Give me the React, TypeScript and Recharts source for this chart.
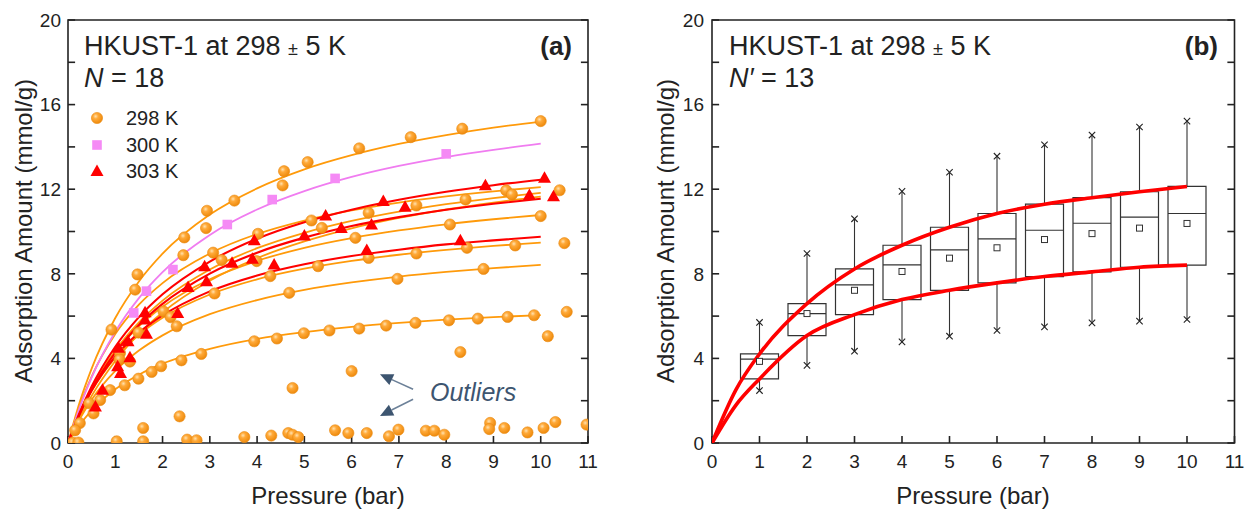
import React from 'react';
import { ComposedChart, Line, Scatter, XAxis, YAxis, ReferenceArea, ReferenceLine } from 'recharts';

const FONT = "'Liberation Sans', Arial, Helvetica, sans-serif";
const INK = '#222';

/* ——— shared axes ——— */
const X_TICKS = [0, 1, 2, 3, 4, 5, 6, 7, 8, 9, 10, 11];
const Y_TICKS = [0, 2, 4, 6, 8, 10, 12, 14, 16, 18, 20];

/* ——— panel (a): fitted isotherms, read at these pressures ——— */
const FIT_P = [0, 0.25, 0.5, 1, 1.5, 2, 3, 4, 5, 6, 7, 8, 9, 10];

const fitOrange1 = [0, 1.95, 3.52, 5.91, 7.64, 8.95, 10.8, 12.04, 12.94, 13.61, 14.14, 14.56, 14.91, 15.2];
const fitOrange2 = [0, 1.77, 3.14, 5.15, 6.54, 7.56, 8.96, 9.88, 10.52, 11.0, 11.37, 11.66, 11.9, 12.1];
const fitOrange3 = [0, 1.41, 2.57, 4.37, 5.7, 6.73, 8.2, 9.21, 9.94, 10.5, 10.94, 11.29, 11.58, 11.83];
const fitOrange4 = [0, 1.21, 2.23, 3.88, 5.16, 6.17, 7.67, 8.74, 9.53, 10.15, 10.64, 11.04, 11.37, 11.65];
const fitOrange5 = [0, 1.42, 2.57, 4.29, 5.52, 6.44, 7.74, 8.61, 9.23, 9.69, 10.05, 10.34, 10.58, 10.78];
const fitOrange6 = [0, 1.39, 2.46, 4.04, 5.12, 5.92, 7.02, 7.74, 8.24, 8.61, 8.9, 9.13, 9.32, 9.47];
const fitOrange7 = [0, 1.14, 2.05, 3.41, 4.37, 5.09, 6.09, 6.76, 7.24, 7.59, 7.87, 8.09, 8.27, 8.42];
const fitOrange8 = [0, 0.86, 1.54, 2.54, 3.23, 3.75, 4.45, 4.92, 5.24, 5.49, 5.68, 5.83, 5.95, 6.05];
const fitPink = [0, 1.7, 3.1, 5.26, 6.85, 8.08, 9.84, 11.04, 11.91, 12.58, 13.1, 13.52, 13.86, 14.15];
const fitRed1 = [0, 1.46, 2.67, 4.55, 5.95, 7.03, 8.58, 9.66, 10.44, 11.03, 11.5, 11.88, 12.19, 12.45];
const fitRed2 = [0, 1.38, 2.52, 4.27, 5.58, 6.58, 8.01, 9.0, 9.71, 10.26, 10.68, 11.03, 11.31, 11.55];
const fitRed3 = [0, 1.39, 2.48, 4.09, 5.21, 6.03, 7.17, 7.92, 8.45, 8.84, 9.14, 9.39, 9.58, 9.75];

/* ——— panel (a): measured points [pressure, amount] ——— */
const orangeUpper = [
  [0.92, 5.36], [1.42, 7.25], [1.47, 7.97], [2.44, 8.88], [2.46, 9.72], [2.92, 10.16], [2.94, 10.98],
  [3.52, 11.46], [4.54, 12.18], [4.57, 12.85], [5.07, 13.28], [6.16, 13.93], [7.25, 14.46], [8.34, 14.86], [10.0, 15.22],
];
const orangeMiddle = [
  [3.07, 9.0], [3.25, 8.65], [3.1, 7.07], [2.3, 5.52], [2.02, 6.22], [2.17, 5.95], [1.49, 5.22], [4.02, 9.89],
  [3.99, 8.6], [4.28, 7.89], [4.68, 7.1], [5.15, 10.52], [5.37, 10.17], [5.29, 8.36], [6.36, 10.88], [6.08, 9.7],
  [6.36, 8.75], [6.97, 7.76], [7.37, 11.23], [7.37, 8.96], [8.08, 10.33], [8.41, 11.51], [8.44, 9.23], [8.79, 8.23],
  [9.27, 11.94], [9.39, 11.75], [9.46, 9.34], [10.0, 10.73],
  [1.1, 4.25], [1.09, 3.95], [1.31, 3.85], [0.45, 1.88], [0.54, 1.4], [0.25, 0.94], [0.15, 0.6], [0.68, 2.03], [0.89, 2.5],
];
const orangeLower = [
  [1.2, 2.73], [1.49, 3.04], [1.77, 3.36], [1.97, 3.63], [2.4, 3.91], [2.82, 4.21], [3.94, 4.81], [4.42, 4.94],
  [4.99, 5.19], [5.53, 5.32], [6.16, 5.41], [6.73, 5.55], [7.35, 5.68], [8.06, 5.8], [8.67, 5.88], [9.3, 5.96], [9.86, 6.04],
];
const orangeOutliers = [
  [4.75, 2.6], [6.0, 3.4], [8.3, 4.3], [10.15, 5.05], [10.5, 9.45], [10.55, 6.2], [10.4, 11.95],
  [1.03, 0.08], [1.59, 0.71], [1.59, 0.08], [2.36, 1.26], [2.52, 0.16], [2.72, 0.13], [3.73, 0.28], [4.3, 0.35],
  [4.66, 0.47], [4.75, 0.39], [4.87, 0.28], [5.65, 0.6], [5.93, 0.47], [6.32, 0.47], [6.79, 0.32], [6.99, 0.63],
  [7.57, 0.58], [7.75, 0.58], [7.96, 0.39], [8.93, 0.95], [8.91, 0.66], [9.23, 0.71], [9.72, 0.5], [10.06, 0.71],
  [10.31, 0.99], [10.97, 0.87], [0.1, 0.02], [0.22, 0.02],
];
const pink300 = [[1.39, 6.15], [1.66, 7.18], [2.22, 8.2], [3.37, 10.33], [4.32, 11.51], [5.65, 12.51], [8.0, 13.67]];
const red303a = [[1.07, 4.5], [1.63, 6.18], [2.54, 7.38], [2.89, 8.36], [3.94, 9.59], [5.45, 10.76], [6.67, 11.44], [8.83, 12.19], [10.08, 12.54]];
const red303b = [
  [0.58, 1.73], [1.05, 3.63], [1.27, 4.81], [1.63, 5.84], [2.93, 7.65], [3.47, 8.52], [5.0, 9.81], [5.78, 10.17],
  [6.42, 10.33], [7.13, 11.17], [9.76, 11.72], [10.27, 11.67],
];
const red303c = [[0.73, 2.52], [1.11, 3.31], [1.31, 4.05], [1.66, 5.16], [2.32, 6.15], [3.9, 8.71], [4.36, 8.44], [6.32, 9.12], [8.3, 9.59]];

/* ——— panel (b): box statistics per pressure ——— */
const BOX_P = [1, 2, 3, 4, 5, 6, 7, 8, 9, 10];
const boxQ1 = [3.03, 5.08, 6.07, 6.78, 7.22, 7.57, 7.87, 8.09, 8.31, 8.41];
const boxQ3 = [4.21, 6.59, 8.23, 9.35, 10.2, 10.85, 11.29, 11.6, 11.88, 12.13];
const boxMedian = [3.97, 6.12, 7.48, 8.42, 9.13, 9.65, 10.06, 10.39, 10.68, 10.85];
const boxMean = [3.86, 6.12, 7.22, 8.11, 8.74, 9.23, 9.62, 9.9, 10.16, 10.38];
const whiskerLow = [2.48, 3.67, 4.34, 4.78, 5.05, 5.32, 5.49, 5.68, 5.76, 5.84];
const whiskerHigh = [5.7, 8.96, 10.6, 11.9, 12.8, 13.56, 14.1, 14.56, 14.94, 15.22];

const BOUND_P = [0, 0.5, 1, 2, 3, 4, 5, 6, 7, 8, 9, 10];
const boundUpper = [0, 2.5, 4.21, 6.59, 8.23, 9.35, 10.2, 10.85, 11.29, 11.6, 11.88, 12.13];
const boundLower = [0, 1.78, 3.03, 5.08, 6.07, 6.78, 7.22, 7.57, 7.87, 8.09, 8.31, 8.41];

const BOX_HALF = 0.4;
// inward tick lengths, in axis units (~7px)
const TICK_DX = 0.15;
const TICK_DY = 0.33;

const toCurve = (xs: number[], ys: number[]) => xs.map((x, i) => ({ x, y: ys[i] }));
const toPts = (pts: number[][]) => pts.map(([x, y]) => ({ x, y }));

const ORANGE_LINE = '#FF9A0A';
const RED = '#FF0000';
const PINK_LINE = '#F07CF0';

/* ——— marker shapes ——— */
const Ball = (p: any) => <circle cx={p.cx} cy={p.cy} r={5.6} fill="url(#ballGrad)" stroke="#E98A10" strokeWidth={0.6} />;
const Square = (p: any) => <rect x={p.cx - 4.8} y={p.cy - 4.8} width={9.6} height={9.6} fill="#F58AF5" />;
const Triangle = (p: any) => (
  <polygon points={`${p.cx},${p.cy - 6.5} ${p.cx - 6.5},${p.cy + 5} ${p.cx + 6.5},${p.cy + 5}`} fill={RED} />
);
const MeanMark = (p: any) => <rect x={p.cx - 3} y={p.cy - 3} width={6} height={6} fill="#fff" stroke="#333" strokeWidth={1} />;
const Cross = (p: any) => (
  <g stroke="#222" strokeWidth={1.1}>
    <line x1={p.cx - 3.2} y1={p.cy - 3.2} x2={p.cx + 3.2} y2={p.cy + 3.2} />
    <line x1={p.cx - 3.2} y1={p.cy + 3.2} x2={p.cx + 3.2} y2={p.cy - 3.2} />
  </g>
);

const Arrow = (p: any) => {
  const { x1, y1, x2, y2 } = p;
  const a = Math.atan2(y2 - y1, x2 - x1);
  const L = 13, W = 6;
  const bx = x2 - L * Math.cos(a), by = y2 - L * Math.sin(a);
  const nx = -Math.sin(a) * W, ny = Math.cos(a) * W;
  return (
    <g>
      <line x1={x1} y1={y1} x2={bx} y2={by} stroke="#6C8098" strokeWidth={1.6} />
      <polygon points={`${x2},${y2} ${bx + nx},${by + ny} ${bx - nx},${by - ny}`} fill="#3D5570" />
    </g>
  );
};

/* ——— tick labels ——— */
const LeftTick = ({ x, y, payload }: any) =>
  payload.value % 4 === 0 ? (
    <text x={x} y={y} dy="0.36em" textAnchor="end" fontSize={19} fontFamily={FONT} fill={INK}>{payload.value}</text>
  ) : <g />;
const BottomTick = ({ x, y, payload }: any) => (
  <text x={x} y={y} dy="0.72em" textAnchor="middle" fontSize={19} fontFamily={FONT} fill={INK}>{payload.value}</text>
);

function frameAndAxes(yWidth: number, yMargin: number) {
  return [
    <XAxis key="x" type="number" dataKey="x" domain={[0, 11]} ticks={X_TICKS} allowDataOverflow
      axisLine={false} tickSize={0} tickMargin={11} tickLine={false} tick={<BottomTick />} height={30} />,
    <YAxis key="y" type="number" dataKey="y" domain={[0, 20]} ticks={Y_TICKS} allowDataOverflow width={yWidth}
      axisLine={false} tickSize={0} tickMargin={yMargin} tickLine={false} tick={<LeftTick />} />,
    <ReferenceArea key="frame" x1={0} x2={11} y1={0} y2={20} fill="none" stroke={INK} strokeWidth={1.6} ifOverflow="visible" />,
    ...X_TICKS.map((t) => (
      <ReferenceLine key={'tb' + t} segment={[{ x: t, y: 0 }, { x: t, y: TICK_DY }]}
        stroke={INK} strokeWidth={1.6} ifOverflow="visible" />
    )),
    ...Y_TICKS.map((t) => (
      <ReferenceLine key={'tl' + t} segment={[{ x: 0, y: t }, { x: TICK_DX, y: t }]}
        stroke={INK} strokeWidth={1.6} ifOverflow="visible" />
    )),
    ...Y_TICKS.map((t) => (
      <ReferenceLine key={'tr' + t} segment={[{ x: 11 - TICK_DX, y: t }, { x: 11, y: t }]}
        stroke={INK} strokeWidth={1.6} ifOverflow="visible" />
    )),
  ];
}

function PanelA() {
  const orangeFits = [fitOrange1, fitOrange2, fitOrange3, fitOrange4, fitOrange5, fitOrange6, fitOrange7, fitOrange8];
  const redFits = [fitRed1, fitRed2, fitRed3];
  return (
    <ComposedChart width={620} height={510} margin={{ top: 20, right: 32, bottom: 37, left: 0 }}>
      <defs>
        <radialGradient id="ballGrad" cx="38%" cy="35%" r="65%">
          <stop offset="0%" stopColor="#FFE2B0" />
          <stop offset="35%" stopColor="#FFAA3A" />
          <stop offset="100%" stopColor="#EE8A0C" />
        </radialGradient>
      </defs>
      {frameAndAxes(68, 7)}
      <Scatter data={toPts(orangeOutliers)} shape={<Ball />} isAnimationActive={false} />
      <Scatter data={toPts(orangeLower)} shape={<Ball />} isAnimationActive={false} />
      <Scatter data={toPts(orangeMiddle)} shape={<Ball />} isAnimationActive={false} />
      <Scatter data={toPts(orangeUpper)} shape={<Ball />} isAnimationActive={false} />
      {orangeFits.map((f, i) => (
        <Line key={'o' + i} data={toCurve(FIT_P, f)} dataKey="y" type="monotone" stroke={ORANGE_LINE}
          strokeWidth={1.8} dot={false} activeDot={false} isAnimationActive={false} />
      ))}
      <Line data={toCurve(FIT_P, fitPink)} dataKey="y" type="monotone" stroke={PINK_LINE}
        strokeWidth={1.8} dot={false} activeDot={false} isAnimationActive={false} />
      {redFits.map((f, i) => (
        <Line key={'r' + i} data={toCurve(FIT_P, f)} dataKey="y" type="monotone" stroke={RED}
          strokeWidth={2.1} dot={false} activeDot={false} isAnimationActive={false} />
      ))}
      <Scatter data={toPts(pink300)} shape={<Square />} isAnimationActive={false} />
      <Scatter data={toPts(red303a)} shape={<Triangle />} isAnimationActive={false} />
      <Scatter data={toPts(red303b)} shape={<Triangle />} isAnimationActive={false} />
      <Scatter data={toPts(red303c)} shape={<Triangle />} isAnimationActive={false} />
      <ReferenceLine segment={[{ x: 7.3, y: 2.54 }, { x: 6.6, y: 3.25 }]} shape={<Arrow />} ifOverflow="visible" />
      <ReferenceLine segment={[{ x: 7.3, y: 2.07 }, { x: 6.6, y: 1.28 }]} shape={<Arrow />} ifOverflow="visible" />
    </ComposedChart>
  );
}

function PanelB() {
  const ends = [
    ...BOX_P.map((x, i) => ({ x, y: whiskerHigh[i] })),
    ...BOX_P.map((x, i) => ({ x, y: whiskerLow[i] })),
  ];
  return (
    <ComposedChart width={625} height={510} margin={{ top: 20, right: 10.5, bottom: 37, left: 0 }}>
      {frameAndAxes(92, 8)}
      {BOX_P.map((x, i) => (
        <ReferenceLine key={'wh' + i} segment={[{ x, y: boxQ3[i] }, { x, y: whiskerHigh[i] }]} stroke="#333" strokeWidth={1.1} />
      ))}
      {BOX_P.map((x, i) => (
        <ReferenceLine key={'wl' + i} segment={[{ x, y: whiskerLow[i] }, { x, y: boxQ1[i] }]} stroke="#333" strokeWidth={1.1} />
      ))}
      {BOX_P.map((x, i) => (
        <ReferenceArea key={'bx' + i} x1={x - BOX_HALF} x2={x + BOX_HALF} y1={boxQ1[i]} y2={boxQ3[i]}
          fill="none" stroke="#333" strokeWidth={1.2} />
      ))}
      {BOX_P.map((x, i) => (
        <ReferenceLine key={'md' + i} segment={[{ x: x - BOX_HALF, y: boxMedian[i] }, { x: x + BOX_HALF, y: boxMedian[i] }]}
          stroke="#333" strokeWidth={1.2} />
      ))}
      <Scatter data={toCurve(BOX_P, boxMean)} shape={<MeanMark />} isAnimationActive={false} />
      <Scatter data={ends} shape={<Cross />} isAnimationActive={false} />
      <Line data={toCurve(BOUND_P, boundUpper)} dataKey="y" type="monotone" stroke={RED} strokeWidth={3.6}
        dot={false} activeDot={false} isAnimationActive={false} />
      <Line data={toCurve(BOUND_P, boundLower)} dataKey="y" type="monotone" stroke={RED} strokeWidth={3.6}
        dot={false} activeDot={false} isAnimationActive={false} />
    </ComposedChart>
  );
}

const txt = { fontFamily: FONT, fill: INK };

function Labels() {
  return (
    <svg width={1245} height={510} style={{ position: 'absolute', left: 0, top: 0, pointerEvents: 'none' }}>
      {/* panel (a) */}
      <text x={84} y={55} fontSize={27} {...txt}>HKUST-1 at 298 <tspan fontSize={18}>±</tspan> 5 K</text>
      <text x={84} y={87} fontSize={27} {...txt}><tspan fontStyle="italic">N</tspan> = 18</text>
      <text x={572} y={55} fontSize={26} fontWeight="bold" textAnchor="end" {...txt}>(a)</text>
      <circle cx={97} cy={118} r={5.6} fill="url(#ballGrad)" stroke="#E98A10" strokeWidth={0.6} />
      <rect x={92.2} y={140.2} width={9.6} height={9.6} fill="#F58AF5" />
      <polygon points="97,164.5 90.5,176 103.5,176" fill={RED} />
      <text x={126} y={125} fontSize={20} {...txt}>298 K</text>
      <text x={126} y={152} fontSize={20} {...txt}>300 K</text>
      <text x={126} y={178} fontSize={20} {...txt}>303 K</text>
      <text x={430} y={401} fontSize={25} fontStyle="italic" fontFamily={FONT} fill="#3D5570">Outliers</text>
      <text x={328} y={504} fontSize={24} textAnchor="middle" {...txt}>Pressure (bar)</text>
      <text transform="translate(23,231) rotate(-90)" fontSize={24} textAnchor="middle" dominantBaseline="central" {...txt}>
        Adsorption Amount (mmol/g)
      </text>
      {/* panel (b) */}
      <text x={729} y={55} fontSize={27} {...txt}>HKUST-1 at 298 <tspan fontSize={18}>±</tspan> 5 K</text>
      <text x={729} y={87} fontSize={27} {...txt}><tspan fontStyle="italic">N′</tspan> = 13</text>
      <text x={1218} y={55} fontSize={26} fontWeight="bold" textAnchor="end" {...txt}>(b)</text>
      <text x={973} y={504} fontSize={24} textAnchor="middle" {...txt}>Pressure (bar)</text>
      <text transform="translate(665,231) rotate(-90)" fontSize={24} textAnchor="middle" dominantBaseline="central" {...txt}>
        Adsorption Amount (mmol/g)
      </text>
    </svg>
  );
}

export default function App() {
  return (
    <div style={{ position: 'absolute', left: 0, top: 0, width: 1245, height: 510, background: '#fff', overflow: 'hidden' }}>
      <div style={{ position: 'absolute', left: 0, top: 0 }}><PanelA /></div>
      <div style={{ position: 'absolute', left: 620, top: 0 }}><PanelB /></div>
      <Labels />
    </div>
  );
}
